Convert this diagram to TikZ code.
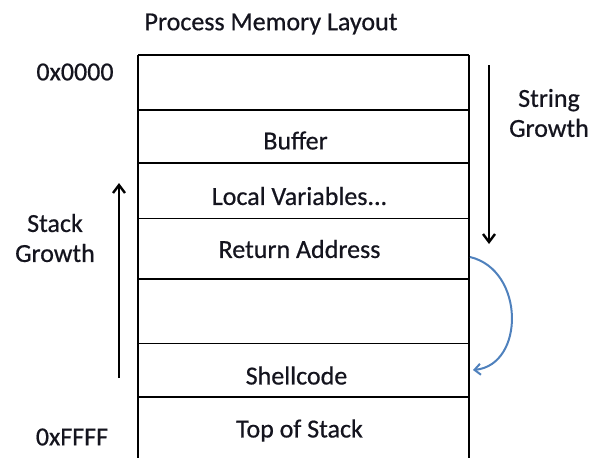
\documentclass[tikz,border=0pt]{standalone}
\usepackage{fontspec}
\setmainfont{Carlito}[FakeBold=0.6]
\usetikzlibrary{arrows.meta}
\definecolor{txt}{RGB}{20,20,30}
\definecolor{jump}{RGB}{79,129,189}
\begin{document}
\begin{tikzpicture}[x=1pt,y=-1pt,
  cell/.style={rectangle,inner sep=0pt,minimum width=331pt,draw=none},
  lbl/.style={font=\fontsize{26}{30}\selectfont,text=txt,inner sep=0pt},
  side/.style={font=\fontsize{26}{30}\selectfont,text=txt,align=center,inner sep=0pt},
  thickrule/.style={line width=2.4pt},
  thinrule/.style={line width=0.9pt},
  growth/.style={line width=2.4pt,-{Straight Barb[length=8pt,width=12pt,line width=2.4pt]}},
  jumpline/.style={draw=jump,line width=2pt,-{Straight Barb[length=6pt,width=11pt,line width=2pt]}}]
  \useasboundingbox (0,0) rectangle (593,458);

  % stack cells, top to bottom
  \node[cell,minimum height=55pt] (c0)   at (303.5,82.5) {};
  \node[cell,minimum height=53pt] (buf)  at (303.5,136.5) {};
  \node[cell,minimum height=56pt] (loc)  at (303.5,191) {};
  \node[cell,minimum height=60pt] (ret)  at (303.5,249) {};
  \node[cell,minimum height=65pt] (gap)  at (303.5,311.5) {};
  \node[cell,minimum height=53pt] (shc)  at (303.5,370.5) {};
  \node[cell,minimum height=61pt] (tos)  at (303.5,427.5) {};

  % cell labels
  \node[lbl] (tbuf) at ([xshift=-8pt,yshift=-4pt]buf.center) {Buffer};
  \node[lbl] (tloc) at ([xshift=-4pt,yshift=-5pt]loc.center) {Local Variables...};
  \node[lbl] (tret) at ([xshift=-4pt,yshift=0pt]ret.center) {Return Address};
  \node[lbl] (tshc) at ([xshift=-7pt,yshift=-5pt]shc.center) {Shellcode};
  \node[lbl] (ttos) at ([xshift=-4pt,yshift=-3pt]tos.center) {Top of Stack};

  % outline and separators
  \draw[thickrule] (c0.north west) -- (c0.north east);
  \draw[thickrule] (c0.north west) -- (tos.south west);
  \draw[thickrule] (c0.north east) -- (tos.south east);
  \draw[thickrule] (buf.north west) -- (buf.north east);
  \draw[thickrule] (loc.north west) -- (loc.north east);
  \draw[thinrule]  (ret.north west) -- (ret.north east);
  \draw[thickrule] (gap.north west) -- (gap.north east);
  \draw[thinrule]  (shc.north west) -- (shc.north east);
  \draw[thickrule] (tos.north west) -- (tos.north east);

  % titles and addresses
  \node[lbl] (title) at (271,24) {Process Memory Layout};
  \node[lbl] (lo) at (75,72) {0x0000};
  \node[lbl] (hi) at (72,437) {0xFFFF};
  \node[side] (sg) at (549,113) {String\\Growth};
  \node[side] (kg) at (55,238) {Stack\\Growth};

  % growth arrows
  \coordinate (sgtop) at (489,65);
  \coordinate (sgbot) at (489,244);
  \draw[growth] (sgtop) -- (sgbot);
  \coordinate (kgbot) at (119,378);
  \coordinate (kgtop) at (119,183);
  \draw[growth] (kgbot) -- (kgtop);

  % return address redirected to the shellcode
  \coordinate (rstart) at (470,257);
  \coordinate (rend) at (473,370);
  \draw[jumpline] (rstart) .. controls (525,270) and (525,365) .. (rend);
\end{tikzpicture}
\end{document}
